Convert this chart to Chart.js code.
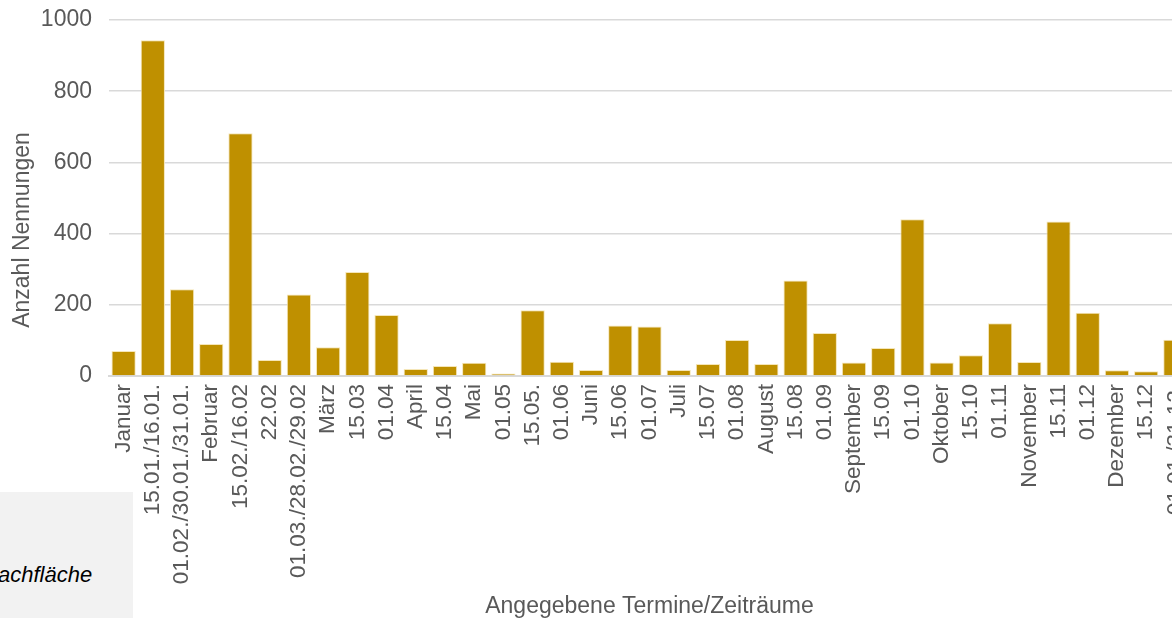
<!DOCTYPE html>
<html>
<head>
<meta charset="utf-8">
<script src="https://cdn.jsdelivr.net/npm/chart.js@4/dist/chart.umd.min.js"></script>
<style>
    html, body { margin: 0; padding: 0; background: #fff; overflow: hidden; }
    #wrap { position: absolute; left: 0; top: 0; width: 1190px; height: 618px; }
    #kasten {
        position: absolute; left: 0; top: 492px; width: 133px; height: 126px;
        background: #f2f2f2; overflow: hidden;
        font-family: "Liberation Sans", Arial, sans-serif; font-style: italic; font-size: 22px; color: #000;
    }
    #kasten span { position: absolute; left: -2px; top: 70px; }
</style>
</head>
<body>
<div id="wrap"><canvas id="grafico-termine"></canvas></div>
<div id="kasten"><span>achfläche</span></div>
<script>
// Datos del gráfico
const termine = [
    "Januar", "15.01./16.01.", "01.02./30.01./31.01.", "Februar", "15.02./16.02", "22.02",
    "01.03./28.02./29.02", "März", "15.03", "01.04", "April", "15.04", "Mai", "01.05", "15.05.",
    "01.06", "Juni", "15.06", "01.07", "Juli", "15.07", "01.08", "August", "15.08", "01.09",
    "September", "15.09", "01.10", "Oktober", "15.10", "01.11", "November", "15.11", "01.12",
    "Dezember", "15.12", "01.01./31.12."
];
const nennungen = [
    70, 943, 244, 90, 682, 45,
    229, 81, 292, 171, 20, 28, 37, 7, 185,
    40, 17, 142, 139, 17, 34, 101, 34, 268, 121,
    38, 79, 440, 38, 58, 148, 39, 434, 178,
    16, 13, 102
];
const yTicks = [0, 200, 400, 600, 800, 1000];
const tituloY = "Anzahl Nennungen";

const gris = "#595959";
const fuente = "'Liberation Sans', Arial, sans-serif";

// Título del eje Y algo desplazado hacia abajo, como en el original
const pluginTituloY = {
    id: "tituloY",
    afterDraw(chart) {
        const { ctx, chartArea } = chart;
        ctx.save();
        ctx.translate(23, (chartArea.top + chartArea.bottom) / 2 + 32);
        ctx.rotate(-Math.PI / 2);
        ctx.font = "23px " + fuente;
        ctx.fillStyle = gris;
        ctx.textAlign = "center";
        ctx.textBaseline = "middle";
        ctx.fillText(tituloY, 0, 0);
        ctx.restore();
    }
};

const ctx = document.getElementById("grafico-termine").getContext("2d");
new Chart(ctx, {
    type: "bar",
    data: {
        labels: termine,
        datasets: [{
            data: nennungen,
            backgroundColor: "#bf9000",
            borderColor: "#f5e6b8",
            borderWidth: 1,
            categoryPercentage: 1,
            barPercentage: 0.83
        }]
    },
    options: {
        responsive: true,
        maintainAspectRatio: false,
        animation: false,
        layout: { padding: 0 },
        plugins: { legend: { display: false }, tooltip: { enabled: false } },
        scales: {
            x: {
                grid: { display: false },
                border: { color: "#d9d9d9", width: 2 },
                ticks: {
                    color: gris, font: { family: fuente, size: 22.5 },
                    minRotation: 90, maxRotation: 90, autoSkip: false, padding: 0
                },
                title: {
                    display: true, text: "Angegebene Termine/Zeiträume",
                    color: gris, font: { family: fuente, size: 23, lineHeight: 1 }, padding: { top: 8, bottom: 0 }
                },
                afterFit: axis => {
                    axis.height = 242;
                    axis.paddingLeft = 0;
                    axis.paddingRight = 0;
                }
            },
            y: {
                min: 0, max: 1000,
                afterBuildTicks: axis => { axis.ticks = yTicks.map(v => ({ value: v })); },
                grid: { color: "#d9d9d9", lineWidth: 1.5, drawTicks: false },
                border: { display: false },
                ticks: {
                    color: gris, font: { family: fuente, size: 23 }, padding: 17,
                    callback: v => String(v)
                },
                afterFit: axis => {
                    axis.width = 109;
                    axis.paddingTop = 20;
                    axis.paddingBottom = 0;
                }
            }
        }
    },
    plugins: [pluginTituloY]
});
</script>
</body>
</html>
